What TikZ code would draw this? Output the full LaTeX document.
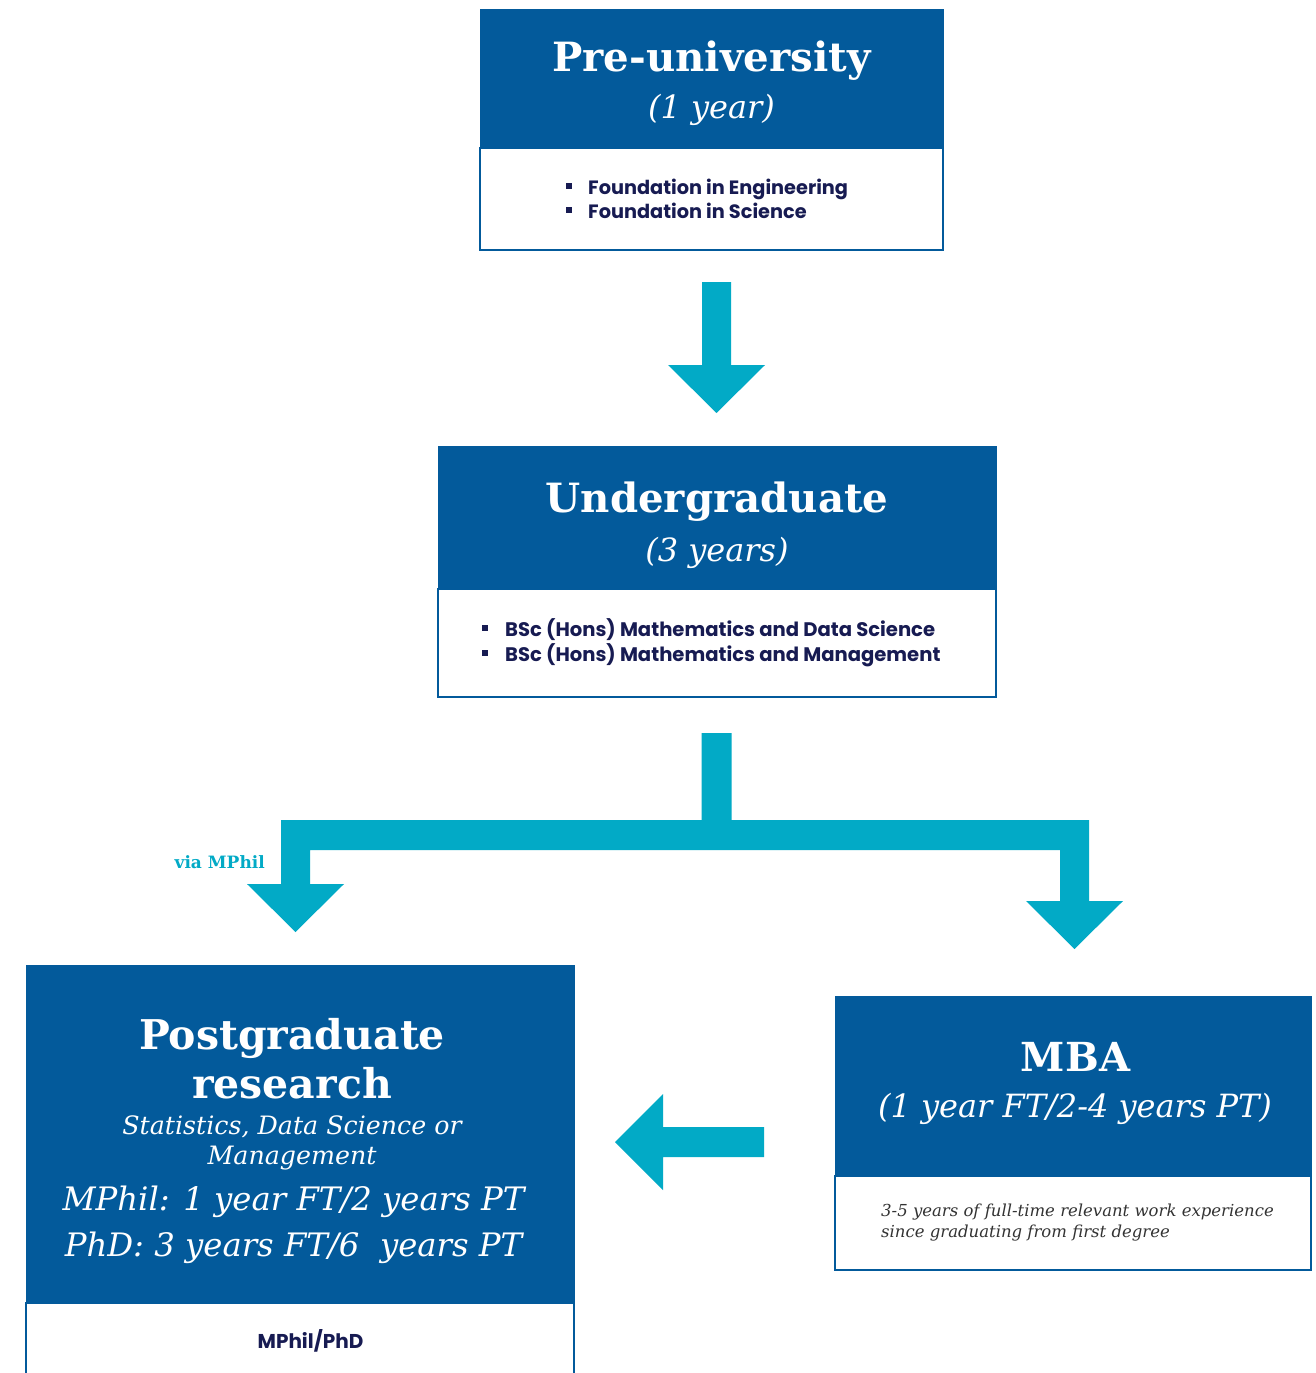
\documentclass[tikz,border=0pt]{standalone}
\usepackage{fontspec}
\setmainfont{DejaVu Serif}
\newfontfamily\slab{DejaVu Serif}
\newfontfamily\gsans{Poppins}
\usetikzlibrary{calc}
\definecolor{hdrblue}{RGB}{3,90,155}
\definecolor{flowc}{RGB}{2,170,198}
\definecolor{navy}{RGB}{23,27,82}
\definecolor{txtgray}{RGB}{51,51,51}
\newcommand{\fsz}[2]{\fontsize{#1}{#2}\selectfont}
\newcommand{\sqb}[1]{\rule[5.3pt]{6pt}{6pt}\hspace{#1}}
\newcommand{\blockdown}[2]{\fill[flow] ($(#1)+(-14.5,0)$) -- ($(#2)+(-14.5,-48)$) -- ($(#2)+(-48.5,-48)$) -- (#2) -- ($(#2)+(48.5,-48)$) -- ($(#2)+(14.5,-48)$) -- ($(#1)+(14.5,0)$) -- cycle;}
\begin{document}
\begin{tikzpicture}[x=1pt,y=-1pt,
  hdr/.style={anchor=north west, fill=hdrblue, draw=hdrblue, line width=1pt, inner sep=0pt, outer sep=0pt},
  bodyb/.style={anchor=north west, fill=white, draw=hdrblue, line width=1.5pt, inner sep=0pt, outer sep=0pt},
  ttl/.style={anchor=base, text=white, inner sep=0pt, font=\slab\bfseries\fsz{40.3}{46}},
  sub/.style={anchor=base, text=white, inner sep=0pt, font=\slab\itshape\fsz{32}{40}},
  item/.style={anchor=base west, text=navy, inner sep=0pt, font=\gsans\bfseries\fsz{19.3}{24}},
  flow/.style={fill=flowc}
]
\useasboundingbox (0,0) rectangle (1316,1373);
\fill[white] (0,0) rectangle (1316,1373);

% ---------- Pre-university ----------
\node[bodyb, minimum width=463pt, minimum height=102pt] (prebody) at (480,148) {};
\node[hdr, minimum width=463pt, minimum height=139pt] (pre) at (480,9) {};
\node[ttl] (pre-t) at (711.5,71.5) {Pre-university};
\node[sub] (pre-s) at (711.5,118) {(1 year)};
\node[item] (pre-i1) at (566,194) {\sqb{16pt}Foundation in Engineering};
\node[item] (pre-i2) at (566,218.5) {\sqb{16pt}Foundation in Science};

% ---------- Undergraduate ----------
\node[bodyb, minimum width=558pt, minimum height=108pt] (ugbody) at (438,589) {};
\node[hdr, minimum width=558pt, minimum height=143pt] (ug) at (438,446) {};
\node[ttl] (ug-t) at (717,512) {Undergraduate};
\node[sub] (ug-s) at (717,561.5) {(3 years)};
\node[item, font=\gsans\bfseries\fsz{19.6}{24}] (ug-i1) at (482,636.5) {\sqb{17pt}BSc (Hons) Mathematics and Data Science};
\node[item, font=\gsans\bfseries\fsz{19.6}{24}] (ug-i2) at (482,661.5) {\sqb{17pt}BSc (Hons) Mathematics and Management};

% ---------- Postgraduate research ----------
\node[bodyb, minimum width=548pt, minimum height=90pt] (pgbody) at (26,1303) {};
\node[hdr, minimum width=548pt, minimum height=338pt] (pg) at (26,965) {};
\node[ttl, font=\slab\bfseries\fsz{41}{48}] (pg-t1) at (292,1049) {Postgraduate};
\node[ttl, font=\slab\bfseries\fsz{41}{48}] (pg-t2) at (292,1098) {research};
\node[sub, font=\slab\itshape\fsz{25.3}{30}] (pg-s1) at (292,1134) {Statistics, Data Science or};
\node[sub, font=\slab\itshape\fsz{25.3}{30}] (pg-s2) at (292,1164) {Management};
\node[sub, font=\slab\itshape\fsz{32.3}{40}] (pg-m1) at (293.5,1210) {MPhil: 1 year FT/2 years PT};
\node[sub, font=\slab\itshape\fsz{32.3}{40}] (pg-m2) at (293.5,1256) {PhD: 3 years FT/6\ \ years PT};
\node[item, anchor=base, font=\gsans\bfseries\fsz{20}{24}] (pg-b) at (310.5,1348) {MPhil/PhD};

% ---------- MBA ----------
\node[bodyb, minimum width=476pt, minimum height=94pt] (mbabody) at (835,1176) {};
\node[hdr, minimum width=476pt, minimum height=180pt] (mba) at (835,996) {};
\node[ttl, font=\slab\bfseries\fsz{40}{46}] (mba-t) at (1075.5,1071) {MBA};
\node[sub] (mba-s) at (1075,1117) {(1 year FT/2-4 years PT)};
\node[anchor=base west, inner sep=0pt, text=txtgray, font=\slab\itshape\fsz{16.5}{20}] (mba-b1) at (881,1216.5) {3-5 years of full-time relevant work experience};
\node[anchor=base west, inner sep=0pt, text=txtgray, font=\slab\itshape\fsz{16.5}{20}] (mba-b2) at (881,1237) {since graduating from first degree};

% ---------- connectors ----------
\coordinate (a1s) at ($(prebody.south)+(5,32)$);
\coordinate (a1e) at ($(ug.north)+(-0.5,-33)$);
\blockdown{a1s}{a1e}

\coordinate (bs) at ($(ugbody.south)+(-0.5,36)$);
\coordinate (tl) at ($(pg.north)+(-4.5,-33)$);
\coordinate (tr) at ($(mba.north)+(1.5,-47)$);
\fill[flow] ($(bs)+(-15,0)$) -- ($(bs)+(-15,87)$) -- ($(tl |- bs)+(-14.5,87)$) -- ($(tl)+(-14.5,-48)$) -- ($(tl)+(-48.5,-48)$) -- (tl) -- ($(tl)+(48.5,-48)$) -- ($(tl)+(14.5,-48)$) -- ($(tl |- bs)+(14.5,117)$) -- ($(tr |- bs)+(-14.5,117)$) -- ($(tr)+(-14.5,-48)$) -- ($(tr)+(-48.5,-48)$) -- (tr) -- ($(tr)+(48.5,-48)$) -- ($(tr)+(14.5,-48)$) -- ($(tr |- bs)+(14.5,87)$) -- ($(bs)+(15,87)$) -- ($(bs)+(15,0)$) -- cycle;
\node[anchor=base east, inner sep=0pt, text=flowc, font=\slab\bfseries\fsz{17}{20}] (via) at (265,868) {via MPhil};

\coordinate (ls) at ($(mba.west)+(-71,56)$);
\coordinate (le) at ($(pg.east)+(41,8)$);
\fill[flow] ($(ls)+(0,-15)$) -- ($(le)+(48,-15)$) -- ($(le)+(48,-48)$) -- (le) -- ($(le)+(48,48)$) -- ($(le)+(48,15)$) -- ($(ls)+(0,15)$) -- cycle;
\end{tikzpicture}
\end{document}
